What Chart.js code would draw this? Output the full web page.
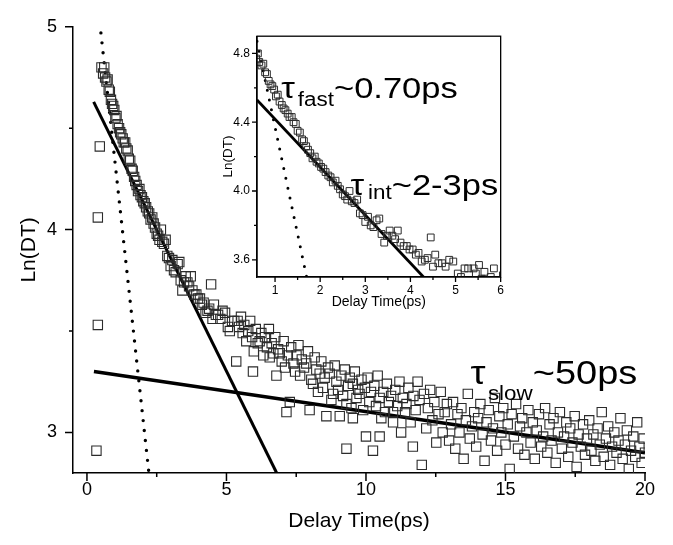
<!DOCTYPE html>
<html>
<head>
<meta charset="utf-8">
<script src="https://cdn.jsdelivr.net/npm/chart.js@4.4.1/dist/chart.umd.min.js"></script>
<style>
  html, body { margin: 0; padding: 0; background: #fff; }
  #wrap { position: relative; width: 673px; height: 545px; }
  #main { position: absolute; left: 0; top: 0; }
  #inset { position: absolute; left: 210px; top: 22px; }
</style>
</head>
<body>
<div id="wrap">
  <canvas id="main" width="673" height="545"></canvas>
  <canvas id="inset" width="300" height="292"></canvas>
</div>
<script>
// measured decay, delay time (ps) vs Ln(DT)
const delayTime = [
  0.34, 0.39, 0.39, 0.46, 0.52, 0.58, 0.62, 0.65, 0.70, 0.74, 0.78, 0.82, 0.86, 0.90, 0.94, 0.98,
  1.02, 1.06, 1.10, 1.15, 1.19, 1.23, 1.28, 1.32, 1.37, 1.41, 1.46, 1.50, 1.55, 1.60, 1.64, 1.69,
  1.73, 1.78, 1.83, 1.88, 1.92, 1.97, 2.02, 2.07, 2.12, 2.18, 2.23, 2.28, 2.34, 2.39, 2.44, 2.50,
  2.55, 2.60, 2.65, 2.70, 2.76, 2.82, 2.88, 2.94, 3.00, 3.06, 3.12, 3.18, 3.25, 3.31, 3.36, 3.42,
  3.48, 3.54, 3.60, 3.66, 3.72, 3.78, 3.85, 3.92, 3.98, 4.05, 4.12, 4.18, 4.25, 4.32, 4.38, 4.45,
  4.50, 4.55, 4.62, 4.70, 4.78, 4.86, 4.95, 5.05, 5.12, 5.20, 5.28,
  5.35, 5.40, 5.45, 5.52, 5.58, 5.64, 5.71, 5.78, 5.85, 5.92, 5.95, 5.98, 6.05, 6.12, 6.19, 6.25,
  6.32, 6.38, 6.45, 6.52, 6.55, 6.62, 6.68, 6.75, 6.79, 6.85, 6.91, 6.98, 7.05, 7.10, 7.15, 7.20,
  7.27, 7.32, 7.40, 7.46, 7.51, 7.58, 7.64, 7.70, 7.78, 7.86, 7.92, 7.98, 8.04, 8.10, 8.16, 8.22,
  8.28, 8.34, 8.40, 8.46, 8.52, 8.58, 8.64, 8.70, 8.76, 8.82, 8.88, 8.94, 9.00, 9.06, 9.12, 9.18,
  9.24, 9.30, 9.30, 9.36, 9.42, 9.48, 9.53, 9.53, 9.60, 9.66, 9.72, 9.77, 9.84, 9.90, 9.96, 10.00,
  10.06, 10.12, 10.18, 10.25, 10.30, 10.36, 10.42, 10.49, 10.49, 10.55, 10.62, 10.68, 10.75, 10.82, 10.90, 10.97,
  10.97, 11.05, 11.12, 11.20, 11.26, 11.32, 11.40, 11.45, 11.52, 11.60, 11.68, 11.70, 11.78, 11.85, 11.92, 12.00,
  12.08, 12.16, 12.22, 12.30, 12.38, 12.45, 12.52, 12.60, 12.68, 12.75, 12.82, 12.90, 12.98, 13.05, 13.12, 13.20,
  13.28, 13.35, 13.42, 13.50, 13.58, 13.65, 13.72, 13.80, 13.88, 13.95, 14.02, 14.10, 14.18, 14.25, 14.32, 14.40,
  14.48, 14.55, 14.62, 14.70, 14.78, 14.85, 14.92, 15.00, 15.08, 15.15, 15.22, 15.30, 15.38, 15.45, 15.52, 15.60,
  15.68, 15.75, 15.82, 15.90, 15.98, 16.05, 16.12, 16.20, 16.28, 16.35, 16.42, 16.50, 16.58, 16.65, 16.72, 16.80,
  16.88, 16.95, 17.02, 17.10, 17.18, 17.25, 17.32, 17.40, 17.48, 17.55, 17.62, 17.70, 17.78, 17.85, 17.92, 18.00,
  18.08, 18.15, 18.22, 18.30, 18.38, 18.45, 18.52, 18.60, 18.68, 18.75, 18.82, 18.90, 18.98, 19.05, 19.12, 19.20,
  19.28, 19.35, 19.42, 19.50, 19.58, 19.65, 19.72, 19.80, 19.88, 19.95, 20.00
];
const lnDT = [
  2.91, 3.53, 4.06, 4.41, 4.80, 4.77, 4.80, 4.75, 4.73, 4.74, 4.69, 4.68, 4.64, 4.62, 4.61, 4.59,
  4.55, 4.56, 4.52, 4.50, 4.48, 4.47, 4.45, 4.43, 4.43, 4.40, 4.39, 4.35, 4.34, 4.30, 4.29, 4.26,
  4.24, 4.22, 4.19, 4.20, 4.17, 4.16, 4.14, 4.13, 4.11, 4.09, 4.08, 4.05, 4.06, 4.03, 4.01, 3.98,
  3.97, 3.95, 4.00, 3.94, 3.93, 3.95, 3.87, 3.86, 3.82, 3.85, 3.80, 3.79, 3.83, 3.84, 3.75, 3.70,
  3.74, 3.77, 3.74, 3.72, 3.77, 3.70, 3.68, 3.68, 3.66, 3.66, 3.63, 3.64, 3.59, 3.60, 3.61, 3.73,
  3.56, 3.63, 3.58, 3.58, 3.56, 3.60, 3.59, 3.52, 3.50, 3.55, 3.55,
  3.35, 3.55, 3.52, 3.57, 3.49, 3.53, 3.45, 3.50, 3.55, 3.47, 3.30, 3.40, 3.51, 3.44, 3.45, 3.49,
  3.38, 3.47, 3.42, 3.51, 3.37, 3.44, 3.39, 3.47, 3.28, 3.41, 3.39, 3.35, 3.45, 3.32, 3.10, 3.38,
  3.15, 3.42, 3.34, 3.30, 3.38, 3.43, 3.28, 3.36, 3.32, 3.34, 3.40, 3.11, 3.26, 3.24, 3.37, 3.31,
  3.20, 3.29, 3.35, 3.22, 3.27, 3.08, 3.32, 3.29, 3.16, 3.19, 3.33, 3.25, 3.21, 3.08, 3.28, 3.18,
  3.31, 3.14, 2.92, 3.23, 3.27, 3.12, 3.24, 3.07, 3.30, 3.17, 3.21, 3.19, 3.26, 3.11, 3.22, 2.98,
  3.27, 3.15, 3.20, 2.91, 3.23, 3.13, 3.28, 3.17, 2.98, 3.07, 3.20, 3.10, 3.24, 3.15, 3.18, 3.05,
  3.10, 3.21, 3.13, 3.25, 3.00, 3.17, 3.10, 3.14, 3.22, 3.05, 2.93, 3.18, 3.11, 3.25, 3.16, 2.84,
  3.19, 3.02, 3.12, 3.21, 3.06, 3.15, 2.95, 3.09, 3.20, 3.00, 3.10, 3.14, 2.96, 3.04, 3.15, 2.92,
  3.09, 3.00, 3.12, 2.87, 3.06, 3.19, 2.97, 3.03, 3.10, 2.93, 3.07, 3.14, 2.99, 2.86, 3.05, 3.11,
  2.96, 3.02, 3.17, 2.91, 3.08, 3.00, 3.12, 2.94, 3.04, 2.82, 3.09, 2.98, 3.14, 2.92, 3.03, 3.07,
  2.89, 3.00, 3.11, 2.95, 3.05, 2.87, 3.01, 3.09, 2.93, 2.98, 3.12, 2.90, 3.04, 2.96, 3.07, 2.85,
  3.00, 3.10, 2.92, 2.98, 3.05, 2.88, 3.02, 2.95, 3.08, 2.83, 2.99, 2.93, 3.04, 2.89, 2.97, 3.06,
  2.91, 2.99, 2.86, 3.02, 2.94, 3.10, 2.88, 2.97, 3.03, 2.84, 2.93, 3.00, 2.90, 2.96, 3.07, 2.87,
  2.94, 3.01, 2.82, 2.91, 2.98, 2.88, 3.05, 2.93, 2.85, 2.97, 2.90
];

// fitted lines (main plot)
const fastLineX = [0.5, 2.22];
const fastLineY = [4.97, 2.8];
const intLineX = [0.24, 6.8];
const intLineY = [4.63, 2.8];
const slowLineX = [0.25, 20];
const slowLineY = [3.30, 2.90];

// fitted lines (inset)
const insetFastX = [0.6, 1.7];
const insetFastY = [4.87, 3.5];
const insetIntX = [0.6, 4.29];
const insetIntY = [4.53, 3.5];

// ticks
const xTicks = [0, 5, 10, 15, 20];
const xMinor = [2.5, 7.5, 12.5, 17.5];
const yTicks = [3, 4, 5];
const yMinor = [3.5, 4.5];
const insetXTicks = [1, 2, 3, 4, 5, 6];
const insetXMinor = [1.5, 2.5, 3.5, 4.5, 5.5];
const insetYTicks = [3.6, 4.0, 4.4, 4.8];
const insetYMinor = [3.8, 4.2, 4.6];

const FONT = '"Liberation Sans", Arial, sans-serif';

function toPoints(xs, ys) {
  return xs.map((x, i) => ({ x: x, y: ys[i] }));
}

function lineSet(xs, ys, width, dotted) {
  return {
    data: toPoints(xs, ys),
    showLine: true,
    borderColor: '#000',
    borderWidth: width,
    borderDash: dotted ? [0, 10] : [],
    borderCapStyle: dotted ? 'round' : 'butt',
    pointRadius: 0,
    clip: 0
  };
}

// ticks drawn outward on the axes, plus the optional frame and τ labels
const axisDecor = {
  id: 'axisDecor',
  beforeDraw(chart, args, opts) {
    if (!opts.whiteArea) return;
    const a = chart.chartArea, ctx = chart.ctx;
    ctx.save();
    ctx.fillStyle = '#fff';
    ctx.fillRect(a.left, a.top, a.right - a.left, a.bottom - a.top);
    ctx.restore();
  },
  afterDraw(chart, args, opts) {
    const ctx = chart.ctx, a = chart.chartArea;
    const xs = chart.scales.x, ys = chart.scales.y;
    ctx.save();
    ctx.strokeStyle = '#000';
    ctx.lineWidth = opts.lineWidth;
    ctx.beginPath();
    opts.xMajor.forEach(v => { const p = xs.getPixelForValue(v); ctx.moveTo(p, a.bottom); ctx.lineTo(p, a.bottom + opts.major); });
    opts.xMinor.forEach(v => { const p = xs.getPixelForValue(v); ctx.moveTo(p, a.bottom); ctx.lineTo(p, a.bottom + opts.minor); });
    opts.yMajor.forEach(v => { const p = ys.getPixelForValue(v); ctx.moveTo(a.left, p); ctx.lineTo(a.left - opts.major, p); });
    opts.yMinor.forEach(v => { const p = ys.getPixelForValue(v); ctx.moveTo(a.left, p); ctx.lineTo(a.left - opts.minor, p); });
    ctx.stroke();
    if (opts.frame) {
      ctx.strokeRect(a.left, a.top, a.right - a.left, a.bottom - a.top);
    }
    // τ annotations, the print is a bit wider than the font so stretch it
    ctx.fillStyle = '#000';
    ctx.textBaseline = 'alphabetic';
    ctx.textAlign = 'left';
    (opts.labels || []).forEach(l => {
      ctx.save();
      ctx.translate(xs.getPixelForValue(l.x), ys.getPixelForValue(l.y));
      ctx.scale(1.15, 1);
      let x = 0;
      ctx.font = l.size + 'px ' + FONT;
      ctx.fillText('τ', x, 0);
      x += ctx.measureText('τ').width + l.tauPad;
      ctx.font = l.subSize + 'px ' + FONT;
      ctx.fillText(l.sub, x, l.subDrop);
      x += ctx.measureText(l.sub).width;
      ctx.font = l.size + 'px ' + FONT;
      ctx.fillText(l.rest, x, 0);
      ctx.restore();
    });
    ctx.restore();
  }
};

const mainChart = new Chart(document.getElementById('main'), {
  type: 'scatter',
  data: {
    datasets: [
      {
        data: toPoints(delayTime, lnDT),
        pointStyle: 'rect',
        pointRadius: 6.6,
        backgroundColor: 'rgba(0,0,0,0)',
        borderColor: '#2b2b2b',
        borderWidth: 1.1
      },
      lineSet(fastLineX, fastLineY, 3.4, true),
      lineSet(intLineX, intLineY, 3),
      lineSet(slowLineX, slowLineY, 3.6)
    ]
  },
  options: {
    responsive: false,
    animation: false,
    layout: { padding: { top: 14, right: 28, left: 0, bottom: 0 } },
    plugins: {
      legend: { display: false },
      tooltip: { enabled: false },
      axisDecor: {
        lineWidth: 1.5, major: 8, minor: 4,
        xMajor: xTicks, xMinor: xMinor, yMajor: yTicks, yMinor: yMinor,
        labels: [
          { x: 13.75, y: 3.24, tauPad: 2, sub: 'slow', subSize: 19.5, subDrop: 16, rest: '~50ps', size: 33 }
        ]
      }
    },
    scales: {
      x: {
        type: 'linear', min: -0.5, max: 20,
        afterFit: s => { s.height = 72; },
        afterBuildTicks: s => { s.ticks = xTicks.map(v => ({ value: v })); },
        grid: { display: false, drawTicks: false },
        border: { display: true, color: '#000', width: 1.5 },
        ticks: { padding: 6, color: '#000', maxRotation: 0, font: { size: 18, family: FONT } },
        title: { display: true, text: 'Delay Time(ps)', color: '#000', font: { size: 21, family: FONT }, padding: { top: 0, bottom: 11 } }
      },
      y: {
        type: 'linear', min: 2.8, max: 5,
        afterFit: s => { s.width = 73; },
        afterBuildTicks: s => { s.ticks = yTicks.map(v => ({ value: v })); },
        grid: { display: false, drawTicks: false },
        border: { display: true, color: '#000', width: 1.5 },
        ticks: { padding: 16, color: '#000', font: { size: 18, family: FONT } },
        title: { display: true, text: 'Ln(DT)', color: '#000', font: { size: 21, family: FONT }, padding: { top: 17, bottom: 0 } }
      }
    }
  },
  plugins: [axisDecor]
});

const insetChart = new Chart(document.getElementById('inset'), {
  type: 'scatter',
  data: {
    datasets: [
      {
        data: toPoints(delayTime, lnDT),
        pointStyle: 'rect',
        pointRadius: 4.8,
        backgroundColor: 'rgba(0,0,0,0)',
        borderColor: '#2b2b2b',
        borderWidth: 1,
        clip: 0
      },
      lineSet(insetFastX, insetFastY, 3, true),
      lineSet(insetIntX, insetIntY, 2.8)
    ]
  },
  options: {
    responsive: false,
    animation: false,
    layout: { padding: { top: 8, right: 6, left: 0, bottom: 0 } },
    plugins: {
      legend: { display: false },
      tooltip: { enabled: false },
      axisDecor: {
        whiteArea: true, frame: true,
        lineWidth: 1.3, major: 5, minor: 3,
        xMajor: insetXTicks, xMinor: insetXMinor, yMajor: insetYTicks, yMinor: insetYMinor,
        labels: [
          { x: 1.14, y: 4.543, tauPad: 2.5, sub: 'fast', subSize: 19.5, subDrop: 8, rest: '~0.70ps', size: 30 },
          { x: 2.67, y: 3.974, tauPad: 3.5, sub: 'int', subSize: 19.5, subDrop: 4, rest: '~2-3ps', size: 30 }
        ]
      }
    },
    scales: {
      x: {
        type: 'linear', min: 0.6, max: 6,
        afterFit: s => { s.height = 37; },
        afterBuildTicks: s => { s.ticks = insetXTicks.map(v => ({ value: v })); },
        grid: { display: false, drawTicks: false },
        border: { display: true, color: '#000', width: 1.3 },
        ticks: { padding: 6, color: '#000', maxRotation: 0, font: { size: 12, family: FONT } },
        title: { display: true, text: 'Delay Time(ps)', color: '#000', font: { size: 14, family: FONT }, padding: { top: 0, bottom: 3 } }
      },
      y: {
        type: 'linear', min: 3.5, max: 4.9,
        afterFit: s => { s.width = 47; },
        afterBuildTicks: s => { s.ticks = insetYTicks.map(v => ({ value: v })); },
        grid: { display: false, drawTicks: false },
        border: { display: true, color: '#000', width: 1.3 },
        ticks: { padding: 7, color: '#000', font: { size: 12, family: FONT }, callback: v => v.toFixed(1) },
        title: { display: true, text: 'Ln(DT)', color: '#000', font: { size: 13.5, family: FONT }, padding: { top: 10, bottom: 0 } }
      }
    }
  },
  plugins: [axisDecor]
});
</script>
</body>
</html>
